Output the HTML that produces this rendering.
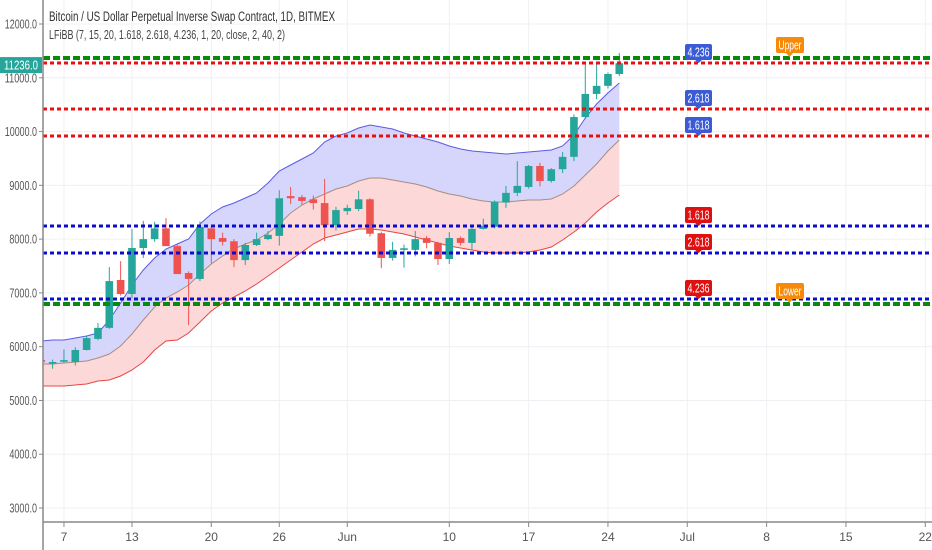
<!DOCTYPE html>
<html><head><meta charset="utf-8"><style>
html,body{margin:0;padding:0;background:#fff;}
svg{display:block;font-family:"Liberation Sans",sans-serif;}
</style></head><body>
<svg id="chart" width="932" height="550" viewBox="0 0 932 550">
<g id="grid"></g>
<g id="bands"></g>
<g id="candles"></g>
<g id="levels"></g>
<g id="axes"></g>
<text x="49" y="21" font-size="13.5" fill="#333" textLength="286" lengthAdjust="spacingAndGlyphs">Bitcoin / US Dollar Perpetual Inverse Swap Contract, 1D, BITMEX</text>
<text x="49" y="39" font-size="12.5" fill="#444" textLength="236" lengthAdjust="spacingAndGlyphs">LFiBB (7, 15, 20, 1.618, 2.618, 4.236, 1, 20, close, 2, 40, 2)</text>
</svg>
<script>
const yTicks=[12000,11000,10000,9000,8000,7000,6000,5000,4000,3000];
const xTickLabels=["7","13","20","26","Jun","10","17","24","Jul","8","15","22"];
const xTickDays=[2,8,15,21,27,36,43,50,57,64,71,78];
const opens=[5750,5715,5720,5715,5938,6145,6350,7240,6980,7835,8000,8200,7870,7370,7260,8200,8020,7960,7610,7890,8000,8060,8800,8780,8740,8670,8260,8520,8560,8740,8110,7650,7800,7800,8020,7930,7630,8020,7930,8190,8230,8680,8860,8970,9360,9080,9300,9530,10270,10700,10850,11070];
const closes=[5720,5715,5750,5938,6160,6350,7220,6980,7835,8000,8200,7870,7350,7260,8225,8000,7950,7610,7890,8000,8080,8760,8760,8710,8670,8260,8540,8580,8740,8100,7650,7800,7830,8000,7930,7630,8020,7930,8190,8250,8690,8860,8990,9360,9080,9300,9530,10270,10700,10850,11070,11270];
const highs=[5780,5760,5950,5990,6200,6440,7480,7590,8190,8340,8320,8390,7900,7400,8330,8230,8120,8000,7930,8120,8150,8910,8970,8820,8810,9120,8600,8640,8900,8760,8140,7950,7900,8150,8060,7950,8130,8050,8250,8380,8720,8990,9450,9380,9420,9320,9620,10320,11270,11270,11100,11460];
const lows=[5690,5590,5700,5650,5930,6120,6330,6950,6900,7650,7950,8100,7800,6400,7220,7550,7880,7480,7520,7870,7980,7880,8650,8640,8550,7960,8160,8450,8520,8050,7460,7600,7470,7680,7830,7520,7540,7880,7800,8180,8200,8580,8800,8940,8980,9050,9230,9450,10230,10600,10800,11030];
const upperBand=[6106,6124,6124,6161,6199,6254,6496,6812,7147,7426,7649,7816,7909,8002,8281,8467,8597,8672,8765,8858,9044,9267,9379,9490,9601,9806,9917,9973,10066,10122,10085,10048,9973,9917,9862,9806,9732,9676,9639,9620,9601,9583,9601,9620,9639,9657,9732,9936,10252,10512,10717,10903];
const basisBand=[5678,5678,5697,5715,5734,5790,5864,6013,6236,6496,6738,6905,7017,7147,7351,7537,7686,7816,7909,7984,8114,8281,8486,8635,8746,8839,8932,8988,9081,9137,9137,9099,9062,9025,8969,8895,8839,8802,8746,8709,8690,8690,8709,8727,8727,8746,8839,8988,9192,9397,9639,9843];
const lowerBand=[5269,5269,5269,5287,5306,5362,5381,5455,5567,5715,5938,6106,6124,6254,6459,6663,6812,6924,7035,7166,7314,7463,7612,7761,7909,8021,8076,8132,8188,8188,8169,8132,8095,8039,7984,7928,7872,7835,7798,7761,7742,7742,7742,7761,7798,7854,7984,8132,8300,8504,8672,8821];
const levelPrices=[11368,11275,10420,9917,8244,7742,6887,6794];
const levelKinds=["green","red","red","red","blue","blue","blue","green"];
const labelTexts=["4.236","2.618","1.618","1.618","2.618","4.236"];
const labelLevels=[1,2,3,4,5,6];
const labelColors=["#3b5bd6","#3b5bd6","#3b5bd6","#e01010","#e01010","#e01010"];
const NS="http://www.w3.org/2000/svg";
const y=p=>24+(12000-p)*0.05378;
const x=i=>41.3+i*11.333;
function mk(tag,attrs,parent){const e=document.createElementNS(NS,tag);for(const k in attrs)e.setAttribute(k,attrs[k]);parent.appendChild(e);return e;}
const grid=document.getElementById('grid'),bands=document.getElementById('bands'),cg=document.getElementById('candles'),lv=document.getElementById('levels'),ax=document.getElementById('axes');
yTicks.forEach(t=>{const l=mk('line',{x1:43,x2:932,y1:y(t),y2:y(t),stroke:'#eef0f4','stroke-width':1},grid);

});
xTickDays.forEach(d=>{const l=mk('line',{x1:x(d),x2:x(d),y1:0,y2:522,stroke:'#eef0f4','stroke-width':1},grid);

});
function pts(arr){return arr.map((v,i)=>x(i).toFixed(1)+','+y(v).toFixed(1));}
function area(a,b){const p1=pts(a),p2=pts(b).reverse();return 'M'+p1.join('L')+'L'+p2.join('L')+'Z';}
const clip=mk('clipPath',{id:'pc'},document.getElementById('chart'));mk('rect',{x:43,y:0,width:889,height:522},clip);
bands.setAttribute('clip-path','url(#pc)');cg.setAttribute('clip-path','url(#pc)');
const fu=mk('path',{d:area(upperBand,basisBand),fill:'#d6d6fc'},bands);


const fl=mk('path',{d:area(basisBand,lowerBand),fill:'#fcd8d8'},bands);


const lu=mk('polyline',{points:pts(upperBand).join(' '),fill:'none',stroke:'#5a5ae6','stroke-width':1},bands);


const lb=mk('polyline',{points:pts(basisBand).join(' '),fill:'none',stroke:'#a88d80','stroke-width':1},bands);


const ll=mk('polyline',{points:pts(lowerBand).join(' '),fill:'none',stroke:'#e84545','stroke-width':1},bands);


opens.forEach((o,i)=>{const c=closes[i],up=c>=o,col=up?'#26a69a':'#ef5350';const g=mk('g',{},cg);


mk('line',{x1:x(i),x2:x(i),y1:y(highs[i]),y2:y(lows[i]),stroke:col,'stroke-width':1},g);
const t=y(Math.max(o,c)),b=y(Math.min(o,c));mk('rect',{x:x(i)-3.8,y:t,width:7.6,height:Math.max(1.5,b-t),fill:col},g);});
const kinds={green:{c:'#0a8a0a',w:4,d:'7 3'},red:{c:'#e81010',w:3,d:'4 3'},blue:{c:'#0c0cd0',w:3,d:'4 3'}};
levelPrices.forEach((p,i)=>{const k=kinds[levelKinds[i]];const l=mk('line',{x1:43,x2:932,y1:y(p),y2:y(p),stroke:k.c,'stroke-width':k.w,'stroke-dasharray':k.d},lv);

});
labelTexts.forEach((t,i)=>{const yy=y(levelPrices[labelLevels[i]]);const g=mk('g',{},lv);


mk('rect',{x:685,y:yy-19,width:27,height:16,rx:2,fill:labelColors[i]},g);
mk('path',{d:`M695 ${yy-3}L698.5 ${yy}L702 ${yy-3}Z`,fill:labelColors[i]},g);
const tx=mk('text',{x:698.5,y:yy-6.5,'font-size':13,fill:'#fff','text-anchor':'middle',textLength:22,lengthAdjust:'spacingAndGlyphs'},g);tx.textContent=t;});
[[0,'Upper'],[7,'Lower']].forEach(([li,t])=>{const yy=y(levelPrices[li]);const g=mk('g',{},lv);


mk('rect',{x:776,y:yy-21,width:28,height:16,rx:2,fill:'#f58a0b'},g);
mk('path',{d:`M786 ${yy-5}L789.5 ${yy-1}L793 ${yy-5}Z`,fill:'#f58a0b'},g);
const tx=mk('text',{x:790,y:yy-8.5,'font-size':13,fill:'#fff','text-anchor':'middle',textLength:23,lengthAdjust:'spacingAndGlyphs'},g);tx.textContent=t;});
mk('line',{x1:43,x2:43,y1:0,y2:550,stroke:'#888','stroke-width':1.5},ax);
mk('line',{x1:43,x2:932,y1:522,y2:522,stroke:'#888','stroke-width':1.5},ax);
yTicks.forEach(t=>{mk('line',{x1:39,x2:43,y1:y(t),y2:y(t),stroke:'#888'},ax);
const s=t.toFixed(1);
const tx=mk('text',{x:37,y:y(t)+4.5,'font-size':13,fill:'#555','text-anchor':'end',textLength:s.length*4.6,lengthAdjust:'spacingAndGlyphs'},ax);


tx.textContent=s;});
xTickDays.forEach((d,i)=>{mk('line',{x1:x(d),x2:x(d),y1:522,y2:527,stroke:'#888'},ax);
const tx=mk('text',{x:x(d),y:541,'font-size':12,fill:'#555','text-anchor':'middle'},ax);


tx.textContent=xTickLabels[i];});
const pl=mk('g',{},ax);


mk('rect',{x:0,y:y(11236)-8,width:42,height:16,fill:'#26a69a'},pl);
const pt=mk('text',{x:21,y:y(11236)+4.5,'font-size':13,fill:'#fff','text-anchor':'middle',textLength:34,lengthAdjust:'spacingAndGlyphs'},pl);pt.textContent='11236.0';
</script>
</body></html>
